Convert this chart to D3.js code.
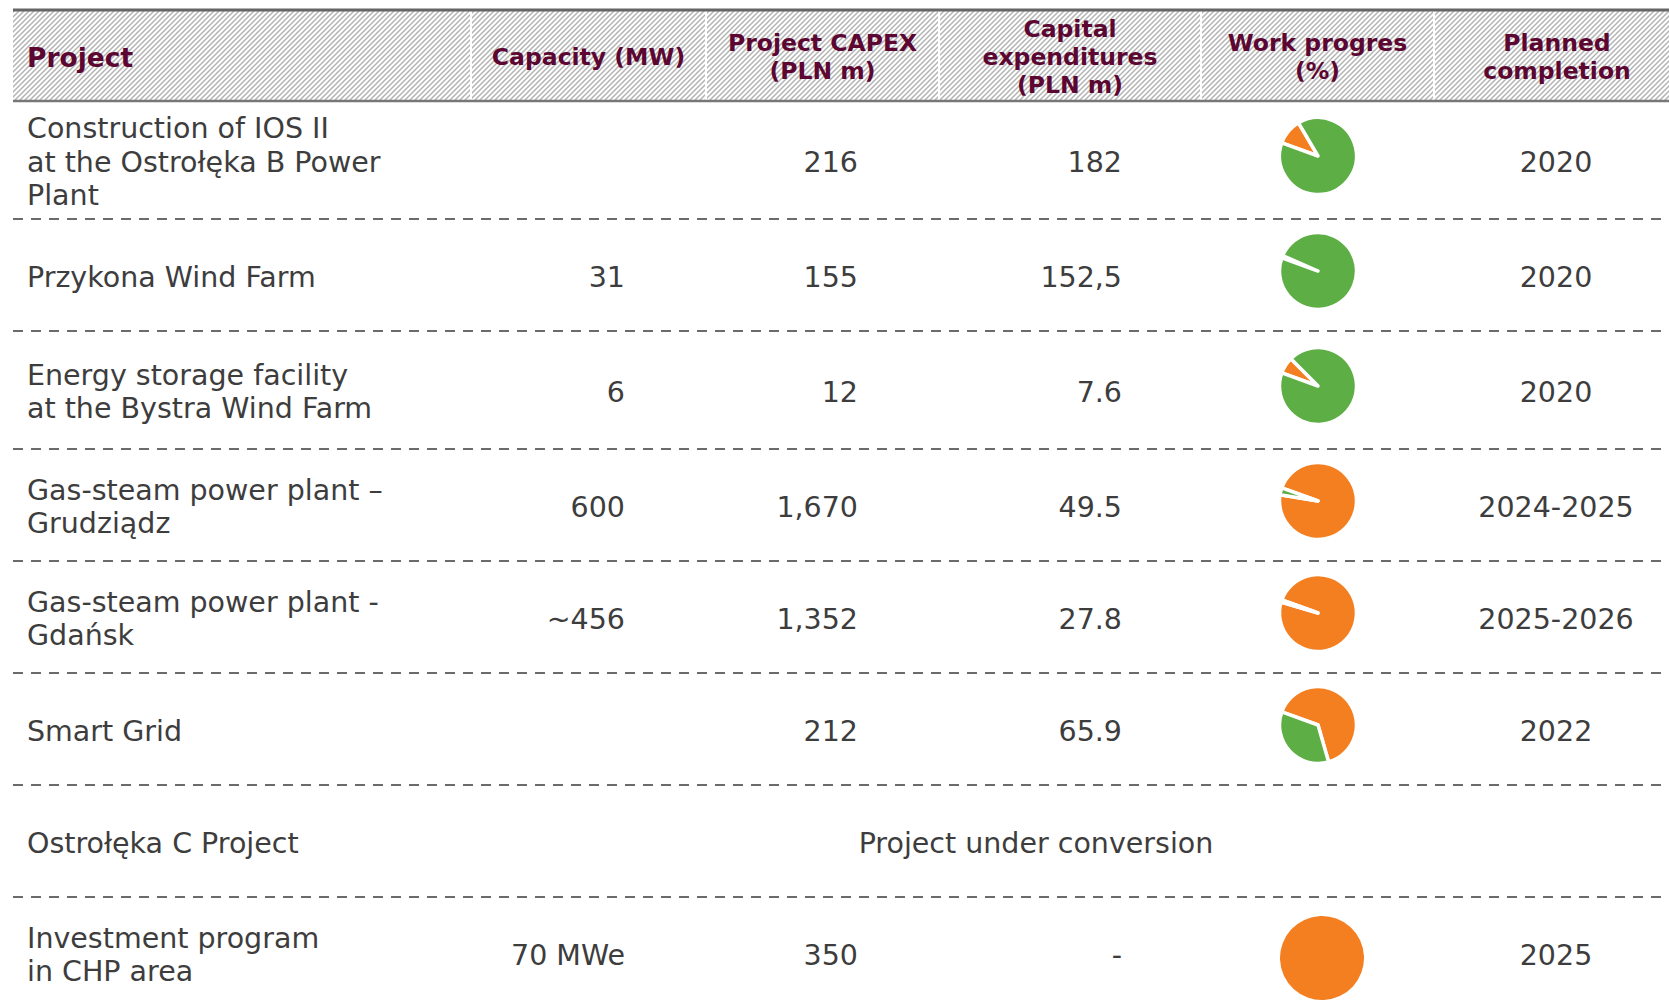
<!DOCTYPE html>
<html>
<head>
<meta charset="utf-8">
<script src="https://cdn.jsdelivr.net/npm/d3@7"></script>
<style>
  body { margin: 0; background: #fff; }
</style>
</head>
<body>
<script>
// table content
const headers = [
  ['Project'],
  ['Capacity (MW)'],
  ['Project CAPEX', '(PLN m)'],
  ['Capital', 'expenditures', '(PLN m)'],
  ['Work progres', '(%)'],
  ['Planned', 'completion']
];
const projects = [
  ['Construction of IOS II', 'at the Ostrołęka B Power', 'Plant'],
  ['Przykona Wind Farm'],
  ['Energy storage facility', 'at the Bystra Wind Farm'],
  ['Gas-steam power plant –', 'Grudziądz'],
  ['Gas-steam power plant -', 'Gdańsk'],
  ['Smart Grid'],
  ['Ostrołęka C Project'],
  ['Investment program', 'in CHP area']
];
const capacity = ['', '31', '6', '600', '~456', '', '', '70 MWe'];
const projectCapex = ['216', '155', '12', '1,670', '1,352', '212', '', '350'];
const capitalExpenditures = ['182', '152,5', '7.6', '49.5', '27.8', '65.9', '', '-'];
const workProgress = [89, 99, 93, 3, 1, 35, null, 0];
const plannedCompletion = ['2020', '2020', '2020', '2024-2025', '2025-2026', '2022', '', '2025'];
const rowNotes = ['', '', '', '', '', '', 'Project under conversion', ''];

const width = 1669;
const height = 1004;
const headTop = 11;
const headBottom = 101;
const rowHeights = [118, 112, 118, 112, 112, 112, 112, 112];
const colEdges = [13, 471, 706, 939, 1201, 1434, 1680];

const maroon = '#5c0632';
const textColor = '#3d3d3d';
const green = '#5cae45';
const orange = '#f47f21';

const svg = d3.select('body')
  .append('svg')
  .attr('width', width)
  .attr('height', height);

// hatched header background
svg.append('defs')
  .append('pattern')
  .attr('id', 'hatch')
  .attr('patternUnits', 'userSpaceOnUse')
  .attr('width', 5)
  .attr('height', 5)
  .append('path')
  .attr('d', 'M0,5 L5,0 M-1,1 L1,-1 M4,6 L6,4')
  .attr('stroke', '#b3b3b3')
  .attr('stroke-width', 1.5);

svg.append('rect')
  .attr('x', colEdges[0])
  .attr('y', headTop)
  .attr('width', width - colEdges[0])
  .attr('height', headBottom - headTop)
  .attr('fill', 'url(#hatch)');

svg.selectAll('line.coldiv')
  .data(colEdges.slice(1, -1))
  .enter()
  .append('line')
  .attr('class', 'coldiv')
  .attr('x1', d => d)
  .attr('x2', d => d)
  .attr('y1', headTop)
  .attr('y2', headBottom)
  .attr('stroke', '#fff')
  .attr('stroke-width', 2);

svg.append('line')
  .attr('x1', colEdges[0]).attr('x2', width)
  .attr('y1', headTop - 1).attr('y2', headTop - 1)
  .attr('stroke', '#666').attr('stroke-width', 3);

svg.append('line')
  .attr('x1', colEdges[0]).attr('x2', width)
  .attr('y1', headBottom).attr('y2', headBottom)
  .attr('stroke', '#777').attr('stroke-width', 2.5);

// header labels
const headLine = 28;
const headMid = 57;
const headerX = (i) => i === 0 ? 27 : (colEdges[i] + colEdges[i + 1]) / 2;

headers.forEach((lines, i) => {
  const t = svg.append('text')
    .attr('x', headerX(i))
    .attr('text-anchor', i === 0 ? 'start' : 'middle')
    .attr('font-family', 'DejaVu Sans, Verdana, sans-serif')
    .attr('font-weight', 'bold')
    .attr('font-size', i === 0 ? 26.5 : 23.5)
    .attr('fill', maroon);
  t.selectAll('tspan')
    .data(lines)
    .enter()
    .append('tspan')
    .attr('x', headerX(i))
    .attr('y', (d, k) => headMid + (k - (lines.length - 1) / 2) * headLine)
    .attr('dominant-baseline', 'central')
    .text(d => d);
});

// row geometry
const rowTops = rowHeights.reduce((acc, h) => {
  acc.push(acc[acc.length - 1] + h);
  return acc;
}, [headBottom]);
const y = d3.scaleOrdinal()
  .domain(d3.range(projects.length))
  .range(rowTops.slice(0, -1).map((t, i) => t + rowHeights[i] / 2));

// dashed separators
svg.selectAll('line.sep')
  .data(rowTops.slice(1, -1))
  .enter()
  .append('line')
  .attr('class', 'sep')
  .attr('x1', colEdges[0])
  .attr('x2', width)
  .attr('y1', d => d)
  .attr('y2', d => d)
  .attr('stroke', '#6b6b6b')
  .attr('stroke-width', 2)
  .attr('stroke-dasharray', '10,8');

const bodyFont = 28.5;
const bodyLine = 33.5;
const textShift = 2;

function cell(x, anchor, lines, i) {
  const t = svg.append('text')
    .attr('text-anchor', anchor)
    .attr('font-family', 'DejaVu Sans, Verdana, sans-serif')
    .attr('font-size', bodyFont)
    .attr('fill', textColor);
  t.selectAll('tspan')
    .data(lines)
    .enter()
    .append('tspan')
    .attr('x', x)
    .attr('y', (d, k) => y(i) + textShift + (k - (lines.length - 1) / 2) * bodyLine)
    .attr('dominant-baseline', 'central')
    .text(d => d);
}

projects.forEach((lines, i) => {
  cell(27, 'start', lines, i);
  if (capacity[i]) cell(625, 'end', [capacity[i]], i);
  if (projectCapex[i]) cell(858, 'end', [projectCapex[i]], i);
  if (capitalExpenditures[i]) cell(1122, 'end', [capitalExpenditures[i]], i);
  if (plannedCompletion[i]) cell(1556, 'middle', [plannedCompletion[i]], i);
  if (rowNotes[i]) cell(1036, 'middle', [rowNotes[i]], i);
});

// progress pies: remaining (orange) clockwise from ~10 o'clock, done (green) after it
const pie = d3.pie()
  .sort(null)
  .value(d => d.v)
  .startAngle(-70 * Math.PI / 180)
  .endAngle(290 * Math.PI / 180);

workProgress.forEach((p, i) => {
  if (p === null) return;
  const slices = pie([
    { v: 100 - p, c: orange },
    { v: p, c: green }
  ]).filter(s => s.data.v > 0);
  const notStarted = p === 0;
  const arc = d3.arc().innerRadius(0).outerRadius(notStarted ? 42 : 38.5);
  svg.append('g')
    .attr('transform', `translate(${notStarted ? 1322 : 1318},${y(i) + (notStarted ? 5 : -4)})`)
    .selectAll('path')
    .data(slices)
    .enter()
    .append('path')
    .attr('d', arc)
    .attr('fill', d => d.data.c)
    .attr('stroke', notStarted ? 'none' : '#fff')
    .attr('stroke-width', 3.5)
    .attr('stroke-linejoin', 'round');
});
</script>
</body>
</html>
